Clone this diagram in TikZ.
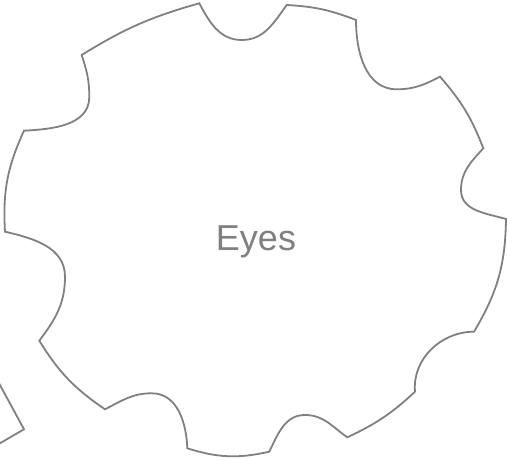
\documentclass[tikz,border=0pt]{standalone}
\usepackage{fontspec}
\setmainfont{Liberation Sans}
\definecolor{geargray}{HTML}{808080}

\begin{document}
\begin{tikzpicture}[x=1pt,y=1pt,every node/.style={font=\fontsize{36}{43}\selectfont},
    gear/.style={draw=geargray,line width=1.8pt,line join=miter}]
    \useasboundingbox (0,0) rectangle (507,460);
    % main gear
    \draw[gear] (199.3,456.7) to[out=-62,in=180] (241.7,420) to[out=0,in=-126] (286.7,455)
      to[bend left=9] (356,440)
      to[out=-90,in=180] (396.7,370.7) to[out=0,in=207] (440,383.3)
      to[bend left=10] (483.3,311.7)
      to[out=-132,in=90] (461,270) to[out=-90,in=164] (506,241)
      to[bend left=15] (474,128.3)
      to[out=180,in=95] (415,68.3)
      to[bend left=9] (347.3,22.7)
      to[out=145,in=0] (305,45) to[out=180,in=64] (269.3,8.3)
      to[bend left=15] (187.3,11.7)
      to[out=92,in=0] (151.7,66.7) to[out=180,in=27] (105,50.7)
      to[bend left=12] (39.3,119.3)
      to[out=53,in=-90] (65,183.3) to[out=90,in=-13] (5,228.3)
      to[bend left=14] (24,329.3)
      to[out=3,in=-90] (89.3,363.3) to[out=90,in=-72] (81.7,405)
      to[bend left=8] cycle;
    \node[text=geargray,anchor=base] (eyes) at (256,209.7) {Eyes};
    % neighbour gear
    \draw[gear] (-3,80.5) -- (24,30.7) -- (-3,15);
\end{tikzpicture}
\end{document}
